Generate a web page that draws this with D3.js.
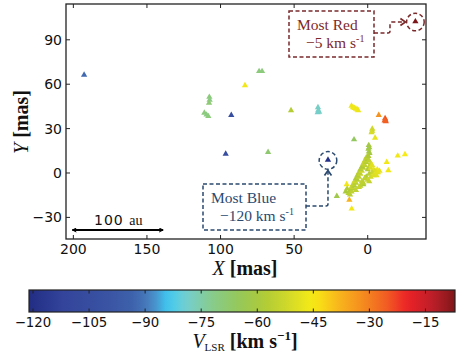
<!DOCTYPE html>
<html><head><meta charset="utf-8">
<script src="https://cdn.jsdelivr.net/npm/d3@7"></script>
<style>
html,body{margin:0;padding:0;background:#fff;}
svg{display:block;}
text{font-family:"DejaVu Sans",sans-serif;}
.serif{font-family:"Liberation Serif","DejaVu Serif",serif;}
</style></head>
<body><svg id="c" width="456" height="356"></svg>
<script>
// ---- data ----
const xTicks = [200, 150, 100, 50, 0];
const yTicks = [-30, 0, 30, 60, 90];
const cbTicks = [-120, -105, -90, -75, -60, -45, -30, -15];
// spot positions (mas) and velocities (km/s)
const spotX = [192.7, 73.8, 71.8, 83.4, 107.6, 107.4, 107.8, 111, 109.5, 108.3, 92.7, 52.1,
  33.8, 33.6, 34, 33, 96.5, 67.7,
  11, 10, 9, 8, 7, 6.5,
  -7.5, -11.8, -12, -12.3, -11.5,
  -3.1, -3, -2.6, -5, 9.3, -0.7, -1, -0.5, -0.8, -1.2,
  -20.4, -25.3, -12.9, -3.8, -6.5, -14, 14.3, 21, 12.5, 10.9,
  13, 12, 11, 10, 11, 9, 10, 8, 9, 7, 8, 6, 7, 5, 6, 4, 5, 3, 4, 2, 3, 1, 2, 0, 1,
  -1, -2, -1, 0, -2, -3, -4, -5, -3, -1, 1, 2, 4, 3, 5, -6, -7, -0.5,
  14, 15, 12, 8, 6, 3, 0, -2, -4, -6, -8, 2, -1,
  -32.4, 27];
const spotY = [66, 68.4, 68.4, 58.8, 51, 49, 47, 40.3, 39, 38, 38.7, 42,
  44, 42, 40.5, 41, 12.6, 13.7,
  45, 44, 43.5, 43, 42.5, 42,
  38.7, 36.5, 35.5, 34.5, 35,
  29.5, 28, 27, 23.4, 22.3, 18.4, 17, 16, 14, 13,
  11.3, 12.2, 7, 2, 2, 1.4, -8.1, -16, -18.5, -24.5,
  -14, -12, -13, -11, -10, -9, -8, -7, -6, -5, -4, -3, -2, -1, 0, 1, 2, 3, 4, 5, 6, 7, 8, 9, 10,
  8, 6, 4, 2, 3, 5, 2, 1, 0, -1, -3, -4, -6, -8, -9, -2, 0, 11,
  -11, -13, -15, -12, -10, -7, -5, -3, -2, 0, 1, -4, -6,
  102, 8.5];
const spotV = [-92, -70, -70, -46, -70, -71, -69, -70, -71, -70, -105, -57,
  -78, -78, -79, -78, -105, -68,
  -47, -47, -46, -47, -46, -47,
  -33, -25, -24, -25, -26,
  -52, -53, -51, -48, -66, -61, -60, -62, -60, -61,
  -46, -45, -46, -46, -46, -46, -46, -62, -38, -46,
  -56, -58, -55, -57, -54, -58, -55, -57, -53, -56, -58, -55, -57, -54, -56, -52, -57, -55, -58, -56, -54, -57, -55, -58, -56,
  -55, -52, -54, -57, -50, -49, -48, -50, -53, -56, -58, -57, -55, -59, -56, -49, -48, -58,
  -57, -59, -56, -55, -54, -56, -53, -52, -50, -49, -48, -55, -54,
  -5, -120];
// colormap stops (value, colour)
const cmapV = [-121, -112, -100, -93, -88, -84, -79, -72, -65, -58, -52, -45, -38, -31, -25, -20, -13, -7];
const cmapC = ["#222d84", "#33449a", "#3a54a3", "#3d62ac", "#4a86c4", "#3ec9f2", "#74cfd0", "#88cb8a",
  "#95c85a", "#b0cb36", "#d0d92a", "#f8eb14", "#f8b41c", "#f4861f", "#f15a23", "#ec2227", "#bc1f29", "#7d1618"];

// ---- layout ----
const svg = d3.select("#c");
const L = 66, T = 4, R = 426, B = 239;
const x = d3.scaleLinear().domain([205, -39.6]).range([L, R]);
const y = d3.scaleLinear().domain([-44.6, 114.2]).range([B, T]);
const color = d3.scaleLinear().domain(cmapV).range(cmapC).clamp(true);

// markers
const sym = d3.symbol().type(d3.symbolTriangle).size(17);
const idx = d3.range(spotX.length);
svg.append("g").selectAll("path").data(idx).join("path")
  .attr("d", sym)
  .attr("transform", i => `translate(${x(spotX[i])},${y(spotY[i]) - 0.5})`)
  .attr("fill", i => color(spotV[i]));

// frame
svg.append("rect").attr("x", L).attr("y", T).attr("width", R - L).attr("height", B - T)
  .attr("fill", "none").attr("stroke", "#222").attr("stroke-width", 1.3);

// ticks (inward, all sides)
const tk = svg.append("g").attr("stroke", "#222").attr("stroke-width", 1);
xTicks.forEach(v => {
  tk.append("line").attr("x1", x(v)).attr("x2", x(v)).attr("y1", B).attr("y2", B - 4);
  tk.append("line").attr("x1", x(v)).attr("x2", x(v)).attr("y1", T).attr("y2", T + 4);
});
yTicks.forEach(v => {
  tk.append("line").attr("y1", y(v)).attr("y2", y(v)).attr("x1", L).attr("x2", L + 4);
  tk.append("line").attr("y1", y(v)).attr("y2", y(v)).attr("x1", R).attr("x2", R - 4);
});
const fmt = v => (v < 0 ? "\u2212" + Math.abs(v) : "" + v);
svg.append("g").selectAll("text").data(xTicks).join("text")
  .attr("x", d => x(d)).attr("y", 254).attr("text-anchor", "middle")
  .attr("font-size", 14).attr("fill", "#111").text(fmt);
svg.append("g").selectAll("text").data(yTicks).join("text")
  .attr("x", L - 4).attr("y", d => y(d) + 5).attr("text-anchor", "end")
  .attr("font-size", 14).attr("fill", "#111").text(fmt);

// axis labels
const xl = svg.append("text").attr("class", "serif").attr("x", 245).attr("y", 275)
  .attr("text-anchor", "middle").attr("font-size", 20).attr("fill", "#111");
xl.append("tspan").attr("font-style", "italic").text("X");
xl.append("tspan").attr("font-weight", "bold").text(" [mas]");
const yl = svg.append("text").attr("class", "serif").attr("transform", "translate(28,122) rotate(-90)")
  .attr("text-anchor", "middle").attr("font-size", 20).attr("fill", "#111");
yl.append("tspan").attr("font-style", "italic").text("Y");
yl.append("tspan").attr("font-weight", "bold").text(" [mas]");

// scale bar
const defs = svg.append("defs");
defs.append("marker").attr("id", "ah").attr("viewBox", "0 0 10 10").attr("refX", 9).attr("refY", 5)
  .attr("markerWidth", 5).attr("markerHeight", 5).attr("orient", "auto-start-reverse")
  .attr("markerUnits", "userSpaceOnUse")
  .append("path").attr("d", "M1,1 L9,5 L1,9").attr("fill", "none").attr("stroke", "#000").attr("stroke-width", 2);
svg.append("line").attr("x1", x(200) - 1).attr("x2", x(139)).attr("y1", 230).attr("y2", 230)
  .attr("stroke", "#000").attr("stroke-width", 1.8)
  .attr("marker-start", "url(#ah)").attr("marker-end", "url(#ah)");
const sb = svg.append("text").attr("x", (x(200) + x(139)) / 2).attr("y", 225)
  .attr("text-anchor", "middle").attr("font-size", 14).attr("fill", "#111");
sb.append("tspan").attr("letter-spacing", 1).text("100 ");
sb.append("tspan").attr("class", "serif").attr("font-family", "Liberation Serif").text("au");

// annotations
function annot(px, py, box, col, l1, l2, path, head) {
  svg.append("circle").attr("cx", px).attr("cy", py).attr("r", 8.8)
    .attr("fill", "none").attr("stroke", col).attr("stroke-width", 1.5).attr("stroke-dasharray", "4,2.5");
  svg.append("rect").attr("x", box[0]).attr("y", box[1]).attr("width", box[2]).attr("height", box[3])
    .attr("fill", "#fff").attr("stroke", col).attr("stroke-width", 1.5).attr("stroke-dasharray", "4,2.5");
  svg.append("path").attr("d", path).attr("fill", "none").attr("stroke", col)
    .attr("stroke-width", 1.5).attr("stroke-dasharray", "4,2.5");
  svg.append("path").attr("d", head).attr("fill", "none").attr("stroke", col).attr("stroke-width", 1.7);
  svg.append("text").attr("class", "serif").attr("x", box[0] + 8).attr("y", box[1] + 19)
    .attr("font-size", 15.5).attr("fill", col).text(l1);
  const t = svg.append("text").attr("class", "serif").attr("x", box[0] + l2.dx).attr("y", box[1] + 37)
    .attr("font-size", 15.5).attr("fill", col);
  t.append("tspan").text(l2.v + " km s");
  t.append("tspan").attr("dy", -6).attr("font-size", 10).text("-1");
}
const rx = x(spotX[spotX.length - 2]), ry = y(spotY[spotY.length - 2]);
annot(rx, ry, [289, 11, 85, 46], "#7b2a2c", "Most Red", { v: "\u22125", dx: 17 },
  `M374,33 H388 Q390,33 390,31 V${ry + 2} Q390,${ry} 392,${ry} H${rx - 10}`,
  `M${rx - 15},${ry - 3.5} L${rx - 10},${ry} L${rx - 15},${ry + 3.5}`);
const bx = x(spotX[spotX.length - 1]), by = y(spotY[spotY.length - 1]);
annot(bx, by, [203, 184, 103, 46], "#2b4a70", "Most Blue", { v: "\u2212120", dx: 17 },
  `M306,206 H${bx - 2} Q${bx},206 ${bx},204 V${by + 10}`,
  `M${bx - 3.5},${by + 15} L${bx},${by + 10} L${bx + 3.5},${by + 15}`);

// colorbar
const CL = 29, CR = 455, CT = 290, CB = 312;
const cbx = d3.scaleLinear().domain([-121.07, -7.1]).range([CL, CR]);
const grad = defs.append("linearGradient").attr("id", "cbg").attr("x1", 0).attr("x2", 1).attr("y1", 0).attr("y2", 0);
d3.range(0, 1.0001, 0.02).forEach(f => {
  const v = cbx.invert(CL + f * (CR - CL));
  grad.append("stop").attr("offset", f).attr("stop-color", color(v));
});
svg.append("rect").attr("x", CL).attr("y", CT).attr("width", CR - CL).attr("height", CB - CT)
  .attr("fill", "url(#cbg)").attr("stroke", "#222").attr("stroke-width", 1.2);
const ct = svg.append("g").attr("stroke", "#222").attr("stroke-width", 1);
cbTicks.forEach(v => {
  ct.append("line").attr("x1", cbx(v)).attr("x2", cbx(v)).attr("y1", CT).attr("y2", CT + 3.5);
  ct.append("line").attr("x1", cbx(v)).attr("x2", cbx(v)).attr("y1", CB).attr("y2", CB - 3.5);
});
svg.append("g").selectAll("text").data(cbTicks).join("text")
  .attr("x", d => cbx(d)).attr("y", 327).attr("text-anchor", "middle")
  .attr("font-size", 13.3).attr("fill", "#111").text(fmt);
const cl = svg.append("text").attr("class", "serif").attr("x", 245).attr("y", 348)
  .attr("text-anchor", "middle").attr("font-size", 20).attr("fill", "#111");
cl.append("tspan").attr("font-style", "italic").text("V");
cl.append("tspan").attr("font-size", 11).attr("dy", 3).text("LSR");
cl.append("tspan").attr("dy", -3).attr("font-weight", "bold").text(" [km s");
cl.append("tspan").attr("font-weight", "bold").attr("font-size", 13).attr("dy", -8).text("\u22121");
cl.append("tspan").attr("font-weight", "bold").attr("dy", 8).text("]");
</script></body></html>
